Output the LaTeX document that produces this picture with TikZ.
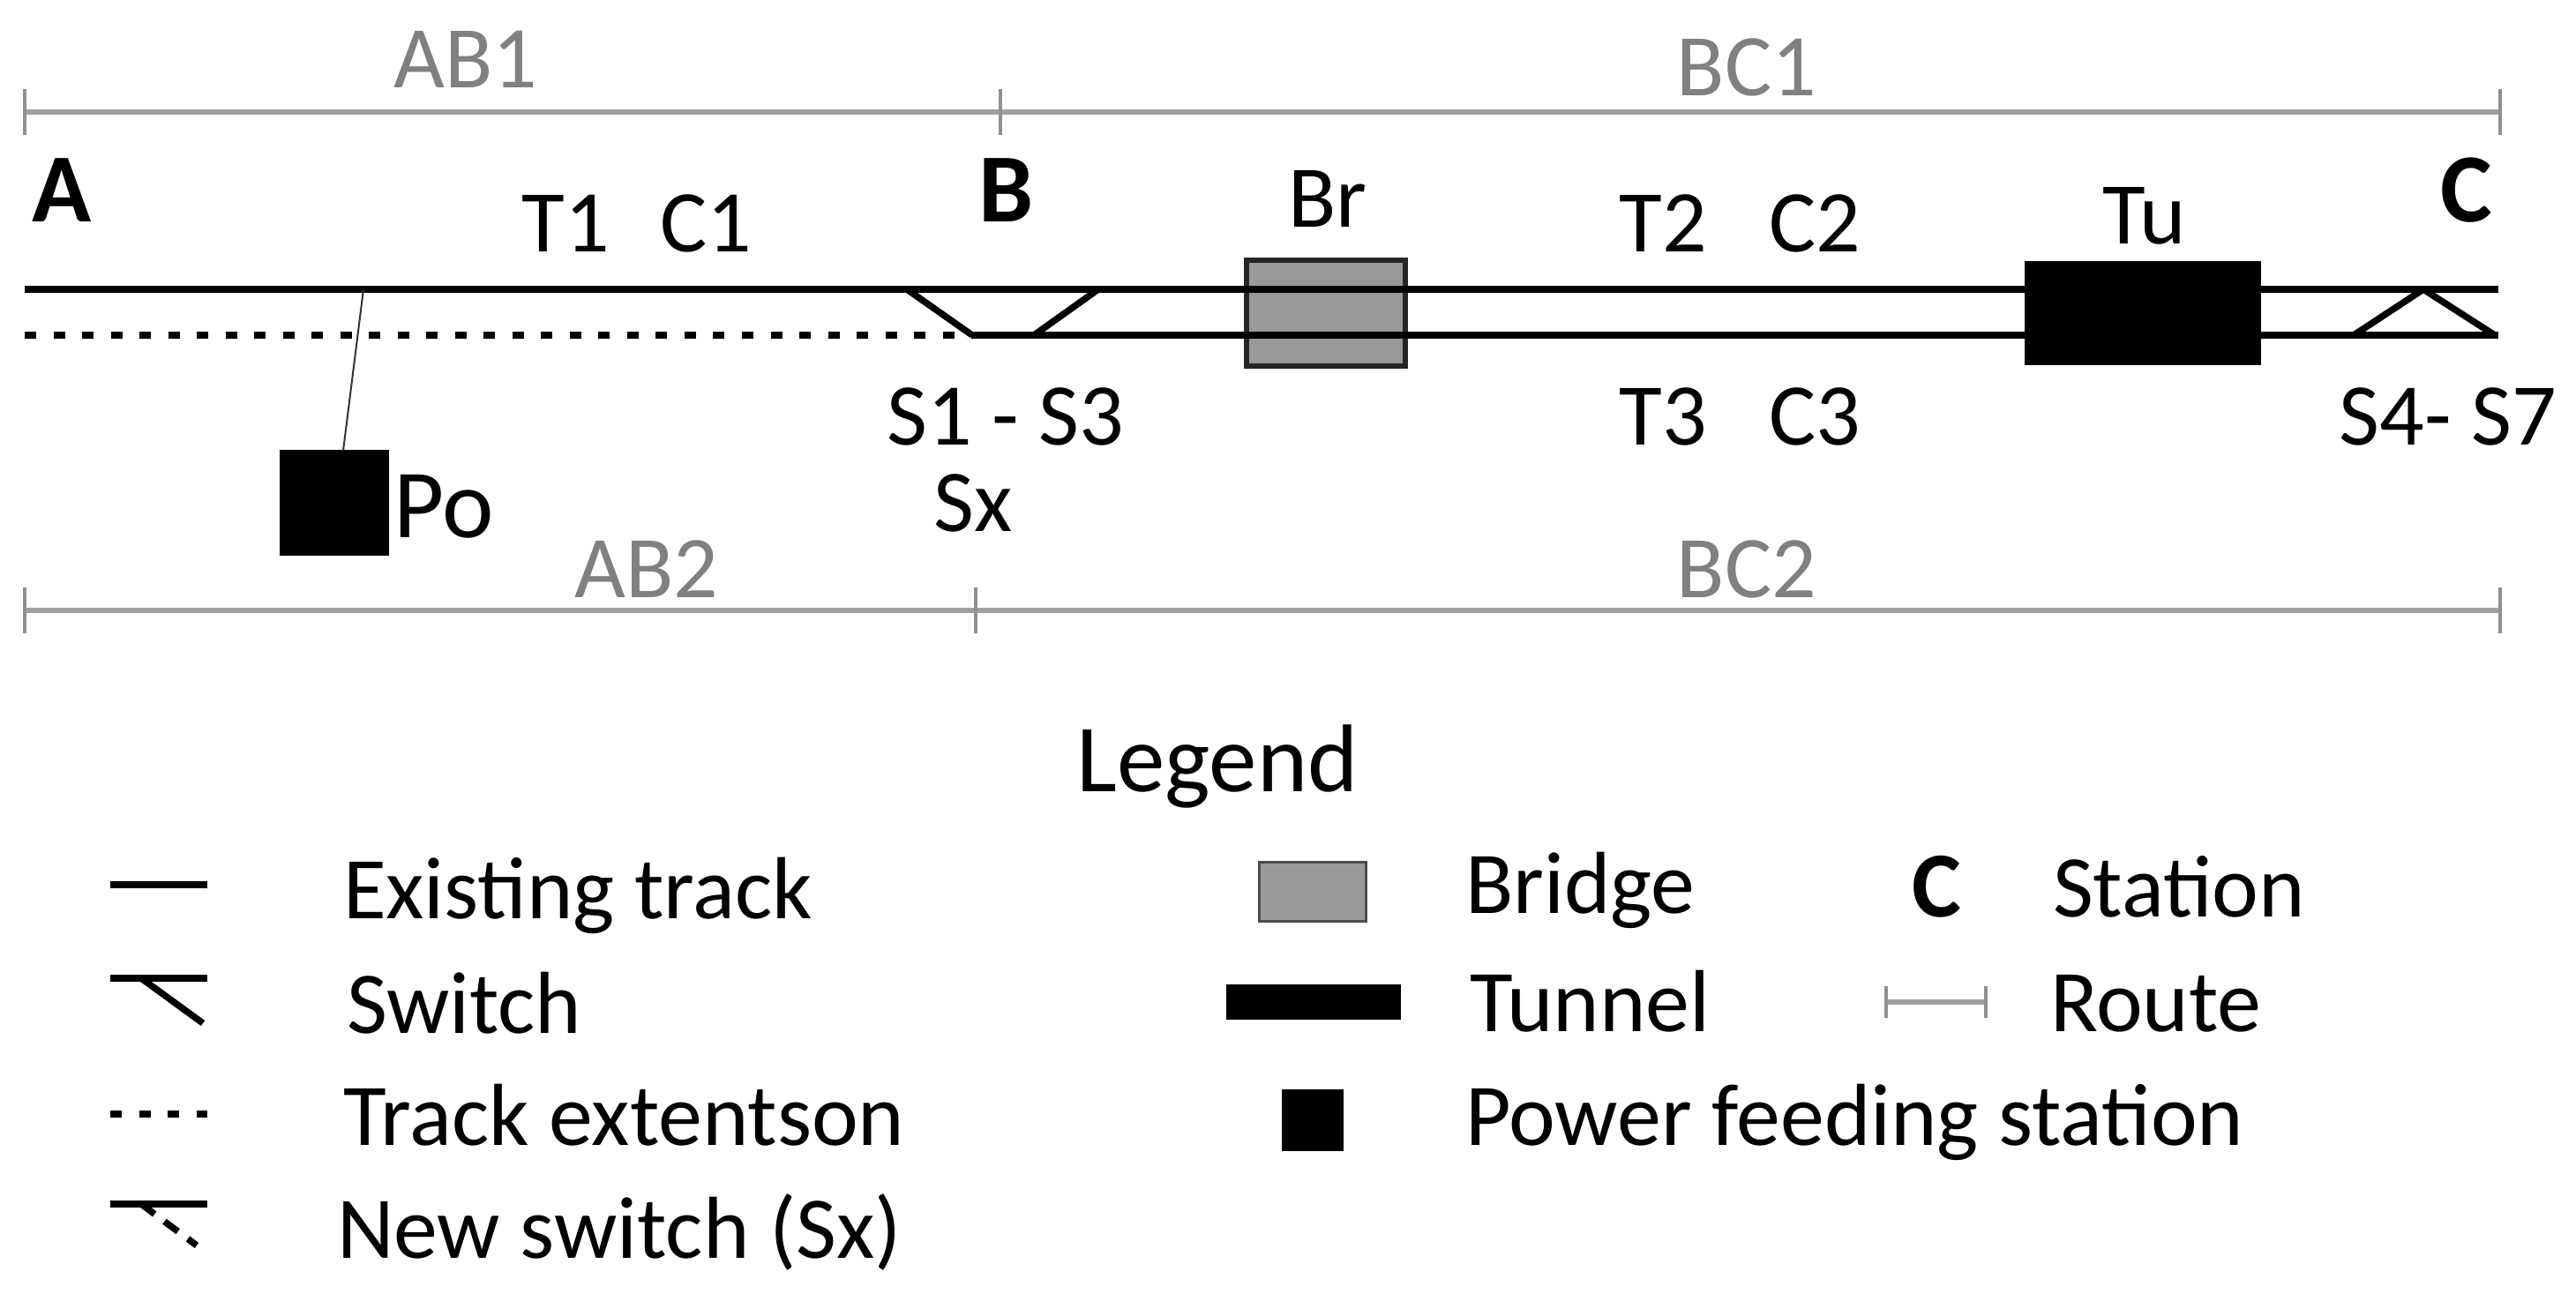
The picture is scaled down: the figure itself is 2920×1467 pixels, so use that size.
\documentclass[tikz,border=0pt]{standalone}
\usepackage{fontspec}
\setmainfont{Carlito}
\definecolor{routegray}{HTML}{A0A0A0}
\definecolor{labelgray}{HTML}{808080}
\definecolor{bridgegray}{HTML}{999999}
\tikzset{
  track/.style={line width=0.075cm,black},
  newtrack/.style={track,dash pattern=on 0.13cm off 0.195cm},
  route/.style={line width=0.06cm,routegray},
  routetick/.style={line width=0.035cm,routegray!90!black},
  txt/.style={anchor=base,inner sep=0pt,outer sep=0pt,font=\fontsize{28.4pt}{32pt}\selectfont},
  routetxt/.style={txt,text=labelgray},
  stationtxt/.style={txt,font=\fontsize{31.5pt}{34pt}\selectfont\bfseries},
  legtxt/.style={txt,anchor=base west},
  bridgebox/.style={draw=black!85,line width=0.06cm,fill=bridgegray,inner sep=0pt},
  blackbox/.style={fill=black,inner sep=0pt}
}
\begin{document}
\begin{tikzpicture}[x=0.01cm,y=-0.01cm]
      \useasboundingbox (0,0) rectangle (2920,1467);
      % routes
      \draw
        (28,127) coordinate (r1a)
        (1134,127) coordinate (r1b)
        (2834,127) coordinate (r1c)
        (28,692) coordinate (r2a)
        (1106,692) coordinate (r2b)
        (2834,692) coordinate (r2c);
      \begin{scope}[route]
        \draw (r1a) to (r1c);
        \draw (r2a) to (r2c);
      \end{scope}
      \begin{scope}[routetick]
        \draw ([yshift=0.26cm]r1a) to ([yshift=-0.26cm]r1a);
        \draw ([yshift=0.26cm]r1b) to ([yshift=-0.26cm]r1b);
        \draw ([yshift=0.26cm]r1c) to ([yshift=-0.26cm]r1c);
        \draw ([yshift=0.26cm]r2a) to ([yshift=-0.26cm]r2a);
        \draw ([yshift=0.26cm]r2b) to ([yshift=-0.26cm]r2b);
        \draw ([yshift=0.26cm]r2c) to ([yshift=-0.26cm]r2c);
      \end{scope}
      \node[routetxt] (ab1) at (528,100) {AB1};
      \node[routetxt] (bc1) at (1980,109) {BC1};
      \node[routetxt] (ab2) at (733,678) {AB2};
      \node[routetxt] (bc2) at (1980,678) {BC2};
      % bridge lies under the tracks
      \node[bridgebox,minimum width=1.79cm,minimum height=1.19cm] (br) at (1503,355) {};
      % track ends and switches
      \draw
        (28,328) coordinate (t1a)
        (2832,328) coordinate (t1b)
        (28,380) coordinate (t2a)
        (1102,380) coordinate (t2m)
        (2832,380) coordinate (t2b)
        (1028,328) coordinate (s1)
        (1245,328) coordinate (s3a)
        (1172,380) coordinate (s3b)
        (2668,380) coordinate (s4)
        (2747,328) coordinate (s5)
        (2828,380) coordinate (s7);
      \begin{scope}[track]
        \draw (t1a) to (t1b);
        \draw (t2m) to (t2b);
        \draw (s1) to (t2m);
        \draw (s3a) to (s3b);
        \draw (s4) to (s5);
        \draw (s5) to (s7);
      \end{scope}
      \draw[newtrack] (t2a) to (t2m);
      % objects on the line
      \node[blackbox,minimum width=2.68cm,minimum height=1.17cm] (tu) at (2429,355) {};
      \node[blackbox,minimum width=1.23cm,minimum height=1.19cm] (po) at (379,570) {};
      \coordinate (pt) at (412,328);
      \draw[line width=0.02cm,black!80] (pt) to (389,511);
      % labels
      \node[stationtxt] (a) at (70,252) {A};
      \node[stationtxt] (b) at (1141,252) {B};
      \node[stationtxt] (c) at (2796,252) {C};
      \node[txt] (t1) at (641,286) {T1};
      \node[txt] (c1) at (800,286) {C1};
      \node[txt] (brl) at (1505,258) {Br};
      \node[txt] (t2) at (1885,286) {T2};
      \node[txt] (c2) at (2057,286) {C2};
      \node[txt] (tul) at (2431,277) {Tu};
      \node[txt] (t3) at (1885,505) {T3};
      \node[txt] (c3) at (2057,505) {C3};
      \node[txt] (s13) at (1140,505) {S1 - S3};
      \node[txt] (s47) at (2775,505) {S4- S7};
      \node[txt] (sx) at (1103,603) {Sx};
      \node[txt,font=\fontsize{31.5pt}{34pt}\selectfont] (pol) at (503,610) {Po};
      % legend
      \node[txt,font=\fontsize{31pt}{34pt}\selectfont] (leg) at (1380,897) {Legend};
      \draw
        (125,1003) coordinate (l1a)
        (235,1003) coordinate (l1b)
        (125,1109) coordinate (l2a)
        (235,1109) coordinate (l2b)
        (160,1109) coordinate (l2m)
        (230,1160) coordinate (l2c)
        (125,1263) coordinate (l3a)
        (235,1263) coordinate (l3b)
        (125,1365) coordinate (l4a)
        (235,1365) coordinate (l4b)
        (160,1365) coordinate (l4m)
        (223,1412) coordinate (l4c)
        (2138,1136) coordinate (l5a)
        (2251,1136) coordinate (l5b);
      \begin{scope}[track]
        \draw (l1a) to (l1b);
        \draw (l2a) to (l2b);
        \draw (l2m) to (l2c);
        \draw (l4a) to (l4b);
      \end{scope}
      \draw[newtrack] (l3a) to (l3b);
      \draw[newtrack,dash pattern=on 0.19cm off 0.14cm] (l4m) to (l4c);
      \draw[route] (l5a) to (l5b);
      \draw[routetick] ([yshift=0.18cm]l5a) to ([yshift=-0.18cm]l5a);
      \draw[routetick] ([yshift=0.18cm]l5b) to ([yshift=-0.18cm]l5b);
      \node[bridgebox,draw=black!70,line width=0.035cm,minimum width=1.21cm,minimum height=0.67cm] (lbr) at (1488,1011) {};
      \node[blackbox,minimum width=1.97cm,minimum height=0.39cm] (ltu) at (1489,1136) {};
      \node[blackbox,minimum width=0.69cm,minimum height=0.69cm] (lpo) at (1488,1270) {};
      \node[legtxt] (e) at (389,1041) {Existing track};
      \node[legtxt] (sw) at (393,1171) {Switch};
      \node[legtxt] (ex) at (389,1298) {Track extentson};
      \node[legtxt] (ns) at (382,1426) {New switch (Sx)};
      \node[legtxt] (lb) at (1661,1035) {Bridge};
      \node[legtxt] (lt) at (1666,1169) {Tunnel};
      \node[legtxt] (lp) at (1661,1298) {Power feeding station};
      \node[txt,font=\fontsize{30pt}{34pt}\selectfont\bfseries] (lc) at (2195,1039) {C};
      \node[legtxt] (ls) at (2327,1039) {Station};
      \node[legtxt] (lr) at (2324,1169) {Route};
    \end{tikzpicture}
\end{document}
